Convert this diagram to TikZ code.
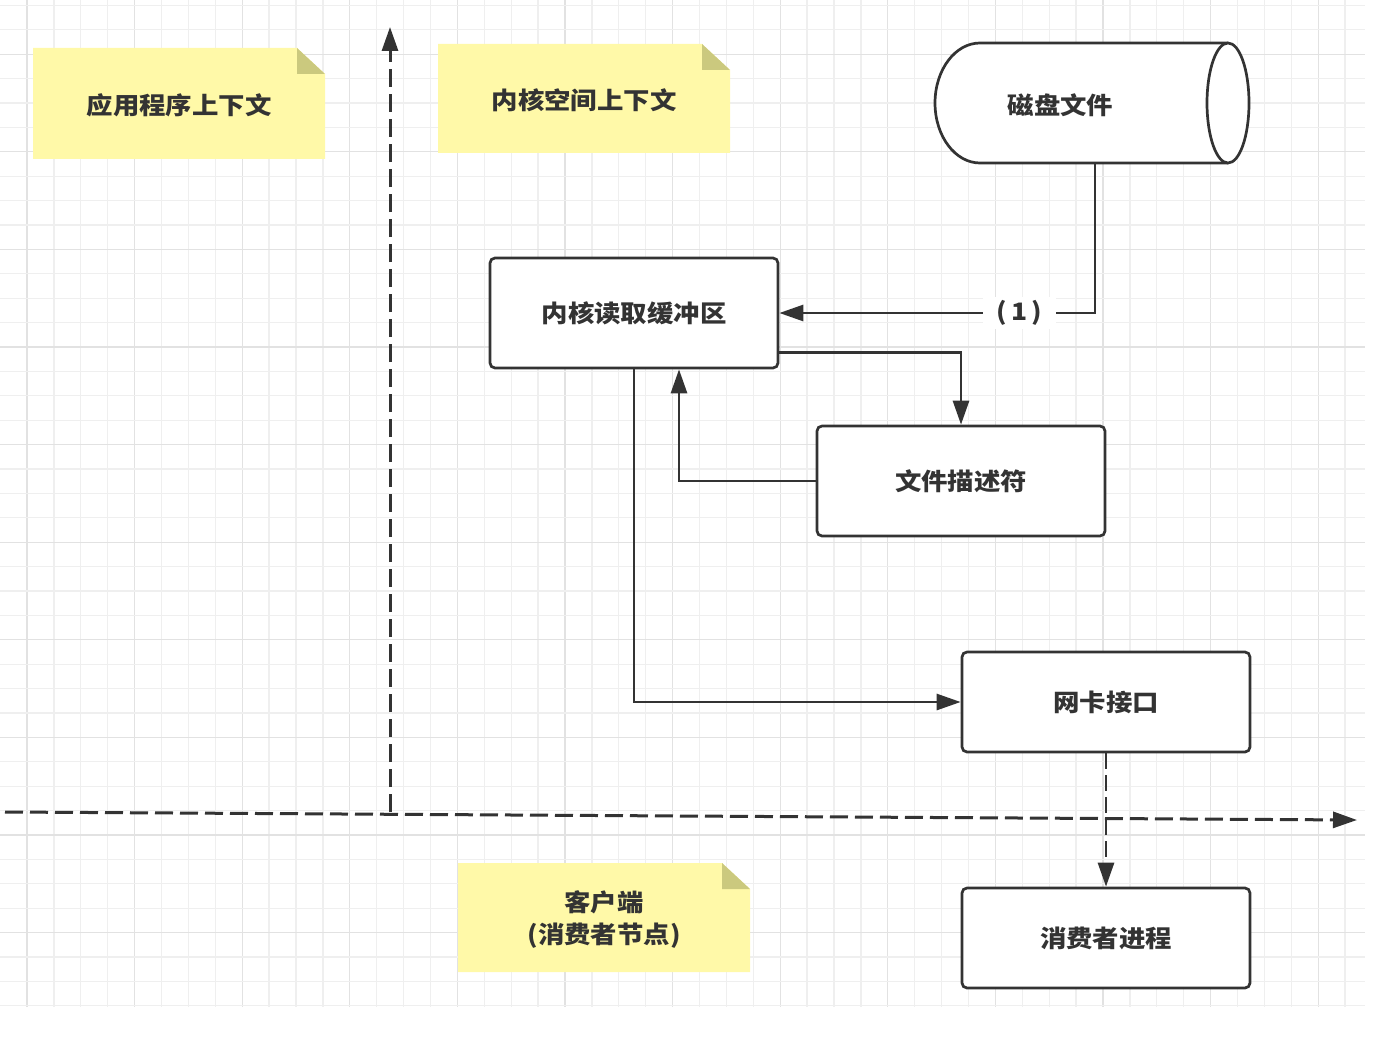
\documentclass[tikz,border=0pt]{standalone}
\usepackage{fontspec}
\newfontfamily\cjk{Noto Sans CJK SC}[FakeStretch=1.1]
\usetikzlibrary{arrows.meta,calc}
\definecolor{ink}{HTML}{333333}
\definecolor{notefill}{HTML}{FFF9A8}
\definecolor{notefold}{HTML}{CBC97E}
\definecolor{gridminor}{HTML}{EFEFEF}
\definecolor{gridmajor}{HTML}{E2E2E2}
\newcommand\mknote[6]{%
  \fill[notefill] (#2,#3) -- ({#4-28},#3) -- (#4,{#3+26}) -- (#4,#5) -- (#2,#5) -- cycle;
  \fill[notefold] ({#4-28},#3) -- ({#4-28},{#3+26}) -- (#4,{#3+26}) -- cycle;
  \node[align=center] (#1) at ({(#2+#4)/2},{(#3+#5)/2+2}) {#6};
}
\begin{document}
\begin{tikzpicture}[x=1pt,y=-1pt,
  every node/.style={font=\cjk\bfseries\fontsize{24}{32}\selectfont, text=ink},
  box/.style={draw=ink, line width=2.7pt, fill=white, rounded corners=5pt,
    minimum width=288pt, inner sep=0pt},
  conn/.style={draw=ink, line width=2.8pt, -{Triangle[length=24pt,width=16pt]}},
  axis/.style={draw=ink, line width=3pt, dash pattern=on 18pt off 7pt,
    -{Triangle[length=24pt,width=16pt]}}
]
\useasboundingbox (0,0) rectangle (1400,1038);
\fill[white] (0,0) rectangle (1400,1038);
% grid
\foreach \k in {0,...,49}{
  \pgfmathtruncatemacro\m{mod(\k,4)}
  \ifnum\m=0 \draw[gridmajor,line width=1.3pt] ({27+26.9*\k},0) -- ({27+26.9*\k},1007);
  \else \draw[gridminor,line width=1.3pt] ({27+26.9*\k},0) -- ({27+26.9*\k},1007); \fi
}
\foreach \k in {0,...,41}{
  \pgfmathtruncatemacro\m{mod(\k,4)}
  \ifnum\m=2 \draw[gridmajor,line width=1.3pt] (0,{5.4+24.4*\k}) -- (1365,{5.4+24.4*\k});
  \else \draw[gridminor,line width=1.3pt] (0,{5.4+24.4*\k}) -- (1365,{5.4+24.4*\k}); \fi
}
% notes
\mknote{appctx}{33}{48}{325}{159}{应用程序上下文}
\mknote{kernctx}{438}{44}{730}{153}{内核空间上下文}
\mknote{client}{458}{863}{750}{972}{客户端\\(消费者节点)}
% axes
\coordinate (o) at (390,812);
\coordinate (vtop) at (390,27);
\coordinate (hl) at (5,812);
\coordinate (hr) at (1357,820);
\draw[axis] (o) -- (vtop);
\draw[axis] (hl) -- (hr);
% disk cylinder
\filldraw[draw=ink, fill=white, line width=2.7pt]
  (1228,43) -- (980,43) arc[start angle=90, end angle=270, x radius=45pt, y radius=60pt]
  -- (1228,163);
\filldraw[draw=ink, fill=white, line width=2.7pt] (1228,103) ellipse[x radius=21pt, y radius=60pt];
\node[minimum width=315pt, minimum height=120pt, inner sep=0pt] (disk) at (1092.5,105) {\hspace*{-64pt}磁盘文件};
% boxes
\node[box, minimum height=110pt] (buf) at (634,313) {\raisebox{-2pt}{内核读取缓冲区}};
\node[box, minimum height=110pt] (fd) at (961,481) {\raisebox{-2pt}{文件描述符}};
\node[box, minimum height=100pt] (nic) at (1106,702) {\raisebox{-2pt}{网卡接口}};
\node[box, minimum height=100pt] (cons) at (1106,938) {\raisebox{-2pt}{消费者进程}};
% connectors
\draw[conn] ($(disk.south)+(2.5,-2)$) |- node[pos=0.62, name=one, fill=white, inner xsep=14pt, inner ysep=3pt, font=\cjk\bfseries\fontsize{24}{28}\selectfont] {\raisebox{-3pt}{(\,1\,)}} (buf.east);
\draw[conn] ($(buf.south east)+(0,-17)$) -| (fd.north);
\draw[conn] (fd.west) -| ($(buf.south)+(45,0)$);
\draw[conn] (buf.south) |- (nic.west);
\draw[conn, dash pattern=on 16pt off 6pt] (nic.south) -- (cons.north);
\end{tikzpicture}
\end{document}
